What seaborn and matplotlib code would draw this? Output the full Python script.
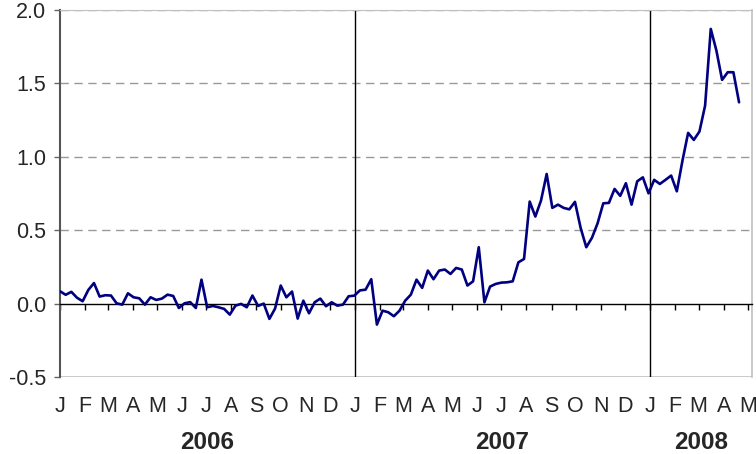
import pandas as pd
import matplotlib
matplotlib.use('Agg')
import matplotlib.pyplot as plt
import seaborn as sns

# Weekly values (Jan 2006 - Apr 2008)
values_2006 = [0.084, 0.060, 0.080, 0.040, 0.016, 0.093, 0.140, 0.048, 0.057, 0.055,
               0.002, -0.007, 0.070, 0.043, 0.036, -0.007, 0.043, 0.025, 0.034, 0.061,
               0.052, -0.030, 0.002, 0.010, -0.030, 0.163, -0.025, -0.016, -0.025, -0.036,
               -0.075, -0.014, -0.002, -0.025, 0.055, -0.016, 0.000, -0.104, -0.034, 0.123,
               0.043, 0.082, -0.102, 0.020, -0.066, 0.009, 0.034, -0.018, 0.009, -0.014,
               -0.007, 0.050, 0.054]
values_2007 = [0.090, 0.095, 0.166, -0.143, -0.048, -0.059, -0.086, -0.048, 0.020, 0.061,
               0.163, 0.107, 0.225, 0.166, 0.225, 0.232, 0.202, 0.243, 0.232, 0.123,
               0.152, 0.384, 0.009, 0.116, 0.134, 0.143, 0.145, 0.152, 0.281, 0.304,
               0.695, 0.593, 0.702, 0.883, 0.652, 0.674, 0.652, 0.642, 0.693, 0.516,
               0.384, 0.448, 0.547, 0.683, 0.686, 0.781, 0.734, 0.820, 0.674, 0.833,
               0.860]
values_2008 = [0.751, 0.843, 0.815, 0.843, 0.872, 0.765, 0.974, 1.163, 1.115, 1.172,
               1.349, 1.871, 1.723, 1.524, 1.576, 1.576, 1.371]

values = values_2006 + values_2007 + values_2008
dates = pd.date_range('2006-01-01', periods=len(values), freq='7D')
df = pd.DataFrame({'date': dates, 'value': values})

month_letters = ['J', 'F', 'M', 'A', 'M', 'J', 'J', 'A', 'S', 'O', 'N', 'D']
month_starts = pd.date_range('2006-01-01', '2008-05-01', freq='MS')
year_labels = ['2006', '2007', '2008']
year_centers = pd.to_datetime(['2006-07-02', '2007-07-02', '2008-03-04'])
year_breaks = pd.to_datetime(['2007-01-01', '2008-01-01'])
y_ticks = [-0.5, 0.0, 0.5, 1.0, 1.5, 2.0]

sns.set_style('white')
plt.rcParams['font.family'] = ['Liberation Sans', 'DejaVu Sans']

fig = plt.figure(figsize=(7.56, 4.54), dpi=100)
ax = fig.add_axes([0.0794, 0.1696, 0.9153, 0.8084])

for y in [0.5, 1.0, 1.5, 2.0]:
    ax.axhline(y, color='#999999', linestyle=(0, (6, 4)), linewidth=1, zorder=1)
ax.axhline(-0.5, color='#c0c0c0', linewidth=1.2, zorder=1)
for d in year_breaks:
    ax.axvline(d, color='black', linewidth=1, zorder=2)

sns.lineplot(data=df, x='date', y='value', color='#000080', linewidth=1.9, ax=ax, zorder=3)

ax.set_xlim(pd.Timestamp('2006-01-01'), pd.Timestamp('2008-05-06'))
ax.set_ylim(-0.5, 2.0)
ax.set_yticks(y_ticks)
ax.set_yticklabels([f'{v:.1f}' for v in y_ticks], fontsize=15.5)
ax.tick_params(axis='y', left=True, length=4, width=1, color='#666666', pad=6)

# x-axis line sits at zero with small month ticks
ax.spines['bottom'].set_position(('data', 0))
ax.spines['bottom'].set_color('black')
ax.spines['bottom'].set_linewidth(1)
ax.set_xticks(month_starts)
ax.set_xticklabels([])
ax.tick_params(axis='x', bottom=True, direction='out', length=4, width=1, color='black')
ax.spines['left'].set_color('#555555')
ax.spines['left'].set_linewidth(1.5)
ax.spines['right'].set_color('#c0c0c0')
ax.spines['right'].set_linewidth(1.2)
ax.spines['top'].set_color('#c0c0c0')
ax.set_xlabel('')
ax.set_ylabel('')

# month letters below the plot
sec = ax.secondary_xaxis(-0.044)
sec.set_xticks(month_starts)
sec.set_xticklabels([month_letters[d.month - 1] for d in month_starts], fontsize=15.5)
sec.tick_params(length=0, pad=2)
sec.spines['bottom'].set_visible(False)

# year labels
sec2 = ax.secondary_xaxis(-0.139)
sec2.set_xticks(year_centers)
sec2.set_xticklabels(year_labels, fontsize=17.5, fontweight='bold')
sec2.tick_params(length=0, pad=2)
sec2.spines['bottom'].set_visible(False)

fig.savefig('out.png', dpi=100)
